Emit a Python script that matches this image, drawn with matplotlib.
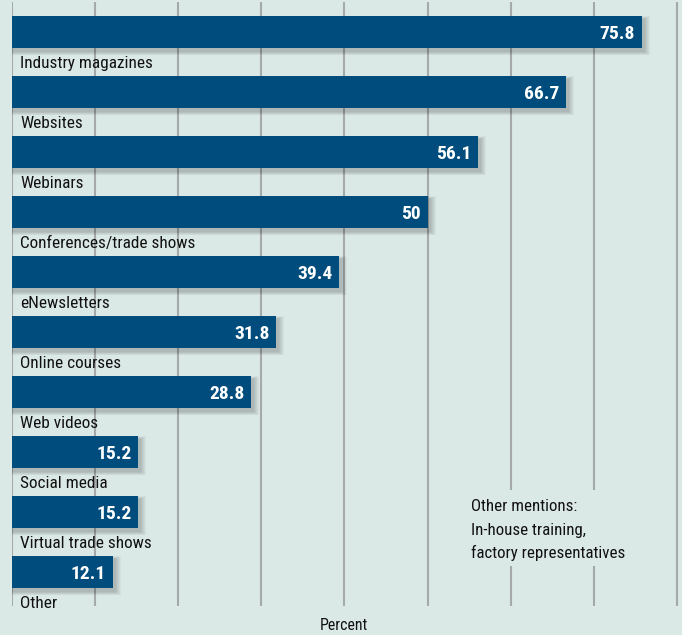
import matplotlib
matplotlib.use("Agg")
import matplotlib.pyplot as plt
import numpy as np
from matplotlib.patches import Rectangle

categories = ["Industry magazines", "Websites", "Webinars", "Conferences/trade shows",
              "eNewsletters", "Online courses", "Web videos", "Social media",
              "Virtual trade shows", "Other"]
values = [75.8, 66.7, 56.1, 50, 39.4, 31.8, 28.8, 15.2, 15.2, 12.1]
value_labels = ["75.8", "66.7", "56.1", "50", "39.4", "31.8", "28.8", "15.2", "15.2", "12.1"]
grid_ticks = [0, 10, 20, 30, 40, 50, 60, 70, 80]
note_lines = ["Other mentions:", "In-house training,", "factory representatives"]

plt.rcParams["font.family"] = ["Roboto Condensed", "DejaVu Sans"]

bg = "#dbe9e6"
bar_c = "#004c7c"
ppu = 8.31   # pixels per percent
row = 60.0   # pixels per row
y0 = 31.5    # pixel centre of first bar

fig = plt.figure(figsize=(6.82, 6.35), dpi=100, facecolor=bg)
ax = fig.add_axes([12 / 682, 0, 1 - 12 / 682, 1])
ax.set_facecolor(bg)
ax.set_xlim(0, 670 / ppu)
ax.set_ylim((635 - y0) / row, -y0 / row)
ax.axis("off")

def py(p):
    # pixel row -> data y
    return (p - y0) / row

y = np.arange(len(values))
h = 32 / row

ax.vlines(grid_ticks, py(2), py(606), color="#a6a9a9", lw=1.5, zorder=0)

# soft drop shadow
vals = np.array(values)
for k in range(6):
    grow = (6 - k) * 1.0
    ax.barh(y + 4 / row, vals + (3 + grow) / ppu, height=h + grow * 1.2 / row,
            left=-1 / ppu, color="#000000", alpha=0.035, zorder=1, lw=0)

ax.barh(y, values, height=h, color=bar_c, zorder=2, lw=0)

for i, (v, lab, cat) in enumerate(zip(values, value_labels, categories)):
    ax.text(v - 7 / ppu, i + (39 - y0) / row, lab, color="white",
            fontsize=14, fontweight="bold", ha="right", va="baseline", zorder=3)
    ax.text(8 / ppu, i + (68 - y0) / row, cat, color="#111111", fontsize=12.4,
            ha="left", va="baseline", zorder=3)

ax.text((344 - 12) / ppu, py(630), "Percent", fontsize=11.4, ha="center",
        va="baseline", color="#111111")

# box for the note, hides the gridlines behind it
ax.add_patch(Rectangle(((465 - 12) / ppu, py(490)), (640 - 465) / ppu, (566 - 490) / row,
                       facecolor=bg, edgecolor="none", zorder=1.5))
for j, line in enumerate(note_lines):
    ax.text((471 - 12) / ppu, py(511 + 23.5 * j), line, fontsize=12.2, ha="left",
            va="baseline", color="#111111", zorder=3)

fig.savefig("out.png", dpi=100, facecolor=bg)
